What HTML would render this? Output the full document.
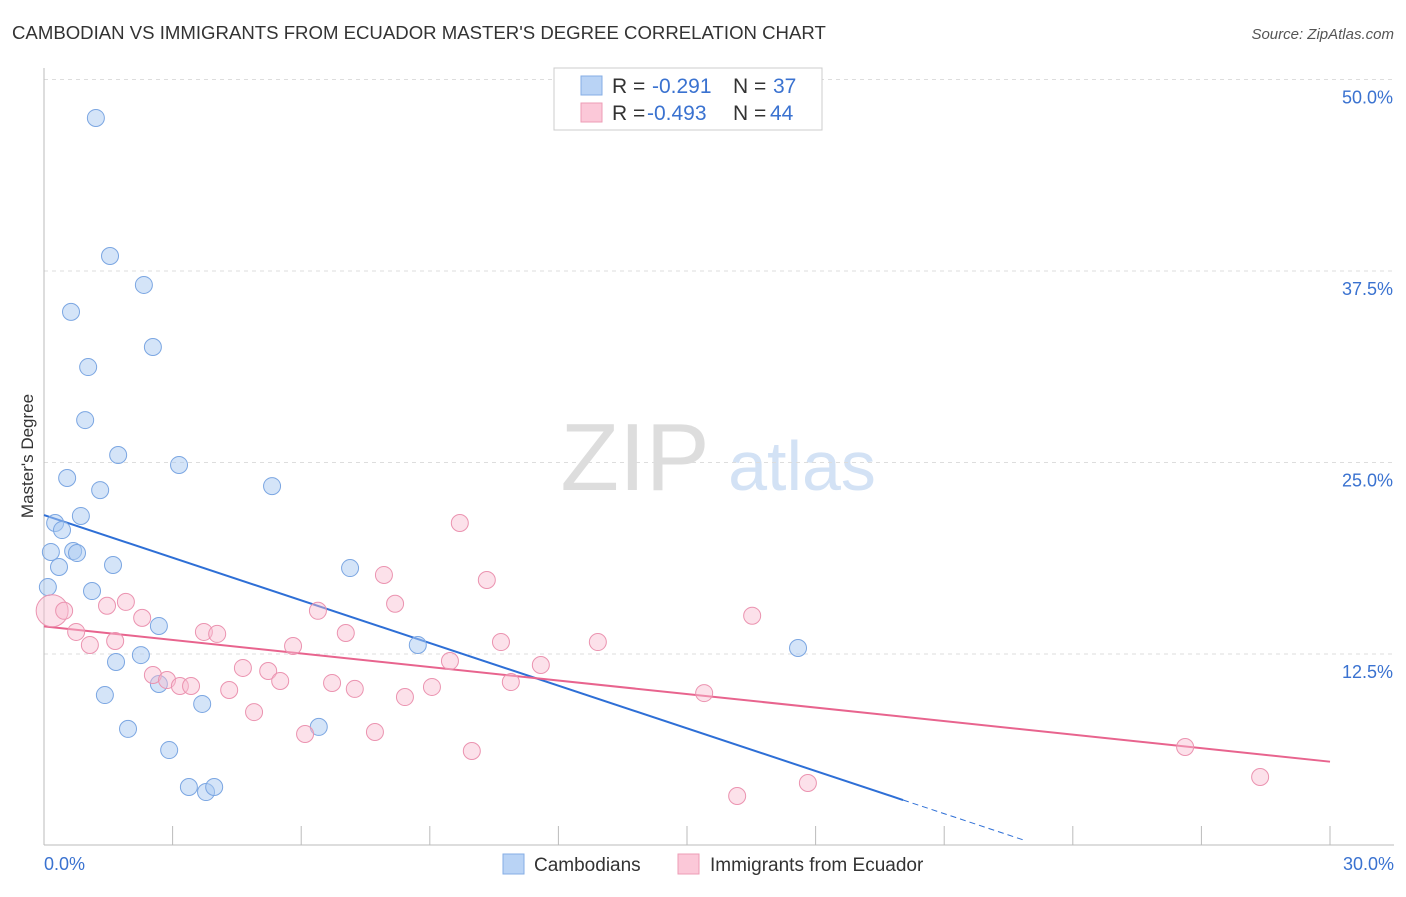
<!DOCTYPE html>
<html><head><meta charset="utf-8"><style>
body{margin:0;background:#fff;font-family:"Liberation Sans",sans-serif;}
svg text{font-family:"Liberation Sans",sans-serif;}
</style></head><body>
<svg id="chart" width="1406" height="892" xmlns="http://www.w3.org/2000/svg">
<text x="12" y="39" font-size="18.6" fill="#333">CAMBODIAN VS IMMIGRANTS FROM ECUADOR MASTER'S DEGREE CORRELATION CHART</text>
<text x="1394" y="39" font-size="15" fill="#555" font-style="italic" text-anchor="end">Source: ZipAtlas.com</text>
<text x="33" y="456" font-size="17" fill="#333" text-anchor="middle" transform="rotate(-90 33 456)">Master's Degree</text>
<g>
<text x="635" y="490" font-size="96" fill="#ddd" font-family="Liberation Serif" text-anchor="middle">ZIP</text>
<text x="802" y="490" font-size="70" fill="#d3e2f5" text-anchor="middle">atlas</text>
</g>
<g id="grid"></g><g id="axes"></g><g id="lines"></g><g id="pts"></g>
<g>
<rect x="554" y="68" width="268" height="62" fill="#fff" stroke="#ccc"/>
<rect x="581" y="76" width="21" height="19" fill="#b9d3f5" stroke="#85aee5"/>
<rect x="581" y="103" width="21" height="19" fill="#fbc8d8" stroke="#ee9cb6"/>
<text x="612" y="93" font-size="21" fill="#333">R =</text><text x="652" y="93" font-size="21" fill="#3a72d0">-0.291</text>
<text x="733" y="93" font-size="21" fill="#333">N =</text><text x="773" y="93" font-size="21" fill="#3a72d0">37</text>
<text x="612" y="120" font-size="21" fill="#333">R =</text><text x="647" y="120" font-size="21" fill="#3a72d0">-0.493</text>
<text x="733" y="120" font-size="21" fill="#333">N =</text><text x="770" y="120" font-size="21" fill="#3a72d0">44</text>
</g>
<g>
<rect x="503" y="854" width="21" height="20" fill="#b9d3f5" stroke="#85aee5"/>
<text x="534" y="871" font-size="19" fill="#333">Cambodians</text>
<rect x="678" y="854" width="21" height="20" fill="#fbc8d8" stroke="#ee9cb6"/>
<text x="710" y="871" font-size="19" fill="#333">Immigrants from Ecuador</text>
</g>
<text x="44" y="870" font-size="18" fill="#3a72d0">0.0%</text>
<text x="1394" y="870" font-size="18" fill="#3a72d0" text-anchor="end">30.0%</text>
</svg>
<script>
const yTicks=[12.5,25,37.5,50];
const yTickLabels=["12.5%","25.0%","37.5%","50.0%"];
const xTicks=[0,3,6,9,12,15,18,21,24,27,30];
const camX=[1.21,1.54,2.33,0.63,2.54,1.03,0.96,1.73,3.15,0.54,1.31,5.32,0.86,0.26,0.42,0.16,0.68,0.77,0.35,1.61,7.14,0.09,1.12,2.68,8.72,2.26,1.68,17.59,2.68,1.42,3.69,6.41,1.96,2.92,3.38,3.78,3.97];
const camY=[47.49,38.48,36.59,34.83,32.54,31.23,27.77,25.49,24.84,23.99,23.2,23.46,21.51,21.05,20.59,19.16,19.22,19.09,18.18,18.31,18.11,16.87,16.61,14.33,13.09,12.43,11.98,12.89,10.54,9.82,9.24,7.74,7.61,6.23,3.82,3.49,3.82];
const ecuX=[9.7,10.33,7.93,0.19,0.47,1.47,1.91,2.29,6.39,8.19,16.52,0.75,1.07,1.66,3.73,4.04,7.04,5.81,10.66,12.92,9.47,11.59,4.64,5.23,2.54,2.87,3.17,3.43,5.51,6.72,7.25,9.05,10.89,4.32,8.42,15.4,4.9,6.09,7.72,9.98,26.62,28.37,16.17,17.82];
const ecuY=[21.05,17.33,17.66,15.32,15.32,15.65,15.9,14.86,15.32,15.78,15.0,13.94,13.09,13.35,13.94,13.81,13.87,13.02,13.28,13.28,12.04,11.78,11.59,11.39,11.13,10.8,10.41,10.41,10.74,10.61,10.22,10.35,10.67,10.15,9.69,9.95,8.71,7.28,7.41,6.17,6.43,4.47,3.23,4.08];
const camLine=[21.57,-0.9282];
const ecuLine=[14.3,-0.2943];
const NS="http://www.w3.org/2000/svg";
const xs=v=>44+v*42.867, ys=v=>845.5-v*15.32;
function mk(t,a,p){const e=document.createElementNS(NS,t);for(const k in a)e.setAttribute(k,a[k]);p.appendChild(e);return e;}
const grid=document.getElementById('grid'),axes=document.getElementById('axes'),lines=document.getElementById('lines'),pts=document.getElementById('pts');
yTicks.forEach((v,i)=>{
 const l=mk('line',{x1:44,x2:1394,y1:ys(v),y2:ys(v),stroke:'#ddd','stroke-dasharray':'4,4'},grid);
 
 
 const t=mk('text',{x:1393,y:ys(v)+24,'font-size':18,fill:'#3a72d0','text-anchor':'end'},grid);
 t.textContent=yTickLabels[i];
 
 
});
const ax=mk('line',{x1:44,x2:44,y1:68,y2:845,stroke:'#bbb'},axes);


const bx=mk('line',{x1:44,x2:1394,y1:845,y2:845,stroke:'#bbb'},axes);


xTicks.forEach(v=>{
 const t=mk('line',{x1:xs(v),x2:xs(v),y1:826,y2:845,stroke:'#bbb'},axes);
 
 
});
const bEnd=20.04,bDash=22.88;
const bl=mk('line',{x1:xs(0),y1:ys(camLine[0]),x2:xs(bEnd),y2:ys(camLine[0]+camLine[1]*bEnd),stroke:'#2e6fd6','stroke-width':2},lines);


const bd=mk('line',{x1:xs(bEnd),y1:ys(camLine[0]+camLine[1]*bEnd),x2:xs(bDash),y2:ys(camLine[0]+camLine[1]*bDash),stroke:'#2e6fd6','stroke-width':1,'stroke-dasharray':'6,4'},lines);


const pl=mk('line',{x1:xs(0),y1:ys(ecuLine[0]),x2:xs(30),y2:ys(ecuLine[0]+ecuLine[1]*30),stroke:'#e8648e','stroke-width':2},lines);


camX.forEach((x,i)=>{
 const c=mk('circle',{cx:xs(x),cy:ys(camY[i]),r:8.5,fill:'rgba(170,202,242,0.5)',stroke:'#7ba6e2','stroke-width':1},pts);
 
 
});
ecuX.forEach((x,i)=>{
 const c=mk('circle',{cx:xs(x),cy:ys(ecuY[i]),r:i==3?16:8.5,fill:'rgba(249,188,208,0.45)',stroke:'#eb93b0','stroke-width':1},pts);
 
 
});
</script>
</body></html>
